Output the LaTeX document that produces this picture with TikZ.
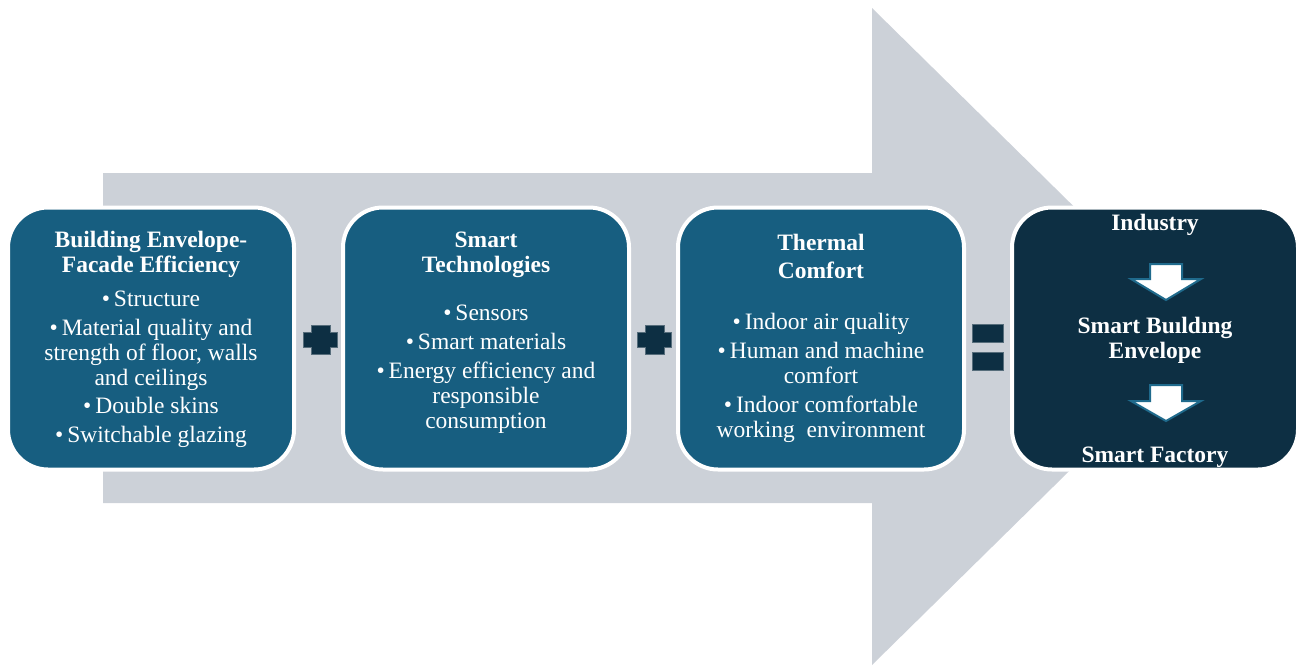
\documentclass[tikz,border=0pt]{standalone}
\usepackage{fontspec}
\setmainfont{Liberation Serif}
\definecolor{boxblue}{HTML}{175E80}
\definecolor{boxdark}{HTML}{0D2F43}
\definecolor{arrowgray}{HTML}{CCD1D8}
\definecolor{arrowedge}{HTML}{1F6A8C}
\begin{document}
\begin{tikzpicture}[x=1pt,y=-1pt,
  card/.style={draw=white,line width=4pt,rounded corners=40pt,minimum width=286pt,minimum height=262pt,inner sep=0pt},
  bluecard/.style={card,fill=boxblue},
  darkcard/.style={card,fill=boxdark},
  ttl/.style={text=white,align=center,font=\fontsize{23.5}{25}\selectfont\bfseries,inner sep=0pt},
  items/.style={text=white,align=center,font=\fontsize{23.5}{25}\selectfont,inner sep=0pt},
  sym/.style={fill=boxdark,draw=boxdark!70!white,line width=0.4pt},
  downarrow/.style={fill=white,draw=arrowedge,line width=2pt,line join=miter}
]
\useasboundingbox (0,0) rectangle (1299,665);
% big gray arrow
\fill[arrowgray] (103,173) -- (872,173) -- (872,8) -- (1206,336.5) -- (872,665) -- (872,503) -- (103,503) -- cycle;
% cards
\node[bluecard] (c1) at (151,338.5) {};
\node[bluecard] (c2) at (486,338.5) {};
\node[bluecard] (c3) at (821,338.5) {};
\node[darkcard] (c4) at (1155,338.5) {};
% card 1 text
\node[ttl] (t1) at (151,254) {Building Envelope-\\Facade Efficiency};
\node[items] (i1) at (151,369) {\textbullet\,Structure\\[4pt]
  \textbullet\,Material quality and\\strength of floor, walls\\and ceilings\\[3pt]
  \textbullet\,Double skins\\[4pt]
  \textbullet\,Switchable glazing};
% card 2 text
\node[ttl] (t2) at (486,254.5) {Smart\\Technologies};
\node[items] (i2) at (486,369.5) {\textbullet\,Sensors\\[4pt]
  \textbullet\,Smart materials\\[4pt]
  \textbullet\,Energy efficiency and\\responsible\\consumption};
% card 3 text
\node[ttl] (t3) at (821,256) {Thermal\\[3pt]Comfort};
\node[items] (i3) at (821,378) {\textbullet\,Indoor air quality\\[4pt]
  \textbullet\,Human and machine\\comfort\\[4pt]
  \textbullet\,Indoor comfortable\\working\ \ environment};
% card 4 text
\node[ttl] (r1) at (1155,225) {Industry};
\node[ttl] (r2) at (1155,340.5) {Smart Buıldıng\\Envelope};
\node[ttl] (r3) at (1155,457) {Smart Factory};
% down arrows
\draw[downarrow] (1150,264) -- (1182,264) -- (1182,279) -- (1201,279) -- (1166,300) -- (1131,279) -- (1150,279) -- cycle;
\draw[downarrow] (1150,385) -- (1182,385) -- (1182,401) -- (1201,401) -- (1166,421) -- (1131,401) -- (1150,401) -- cycle;
% plus signs
\draw[sym] (311,325) -- (330,325) -- (330,332) -- (337,332) -- (337,347) -- (330,347) -- (330,354) -- (311,354) -- (311,347) -- (303,347) -- (303,332) -- (311,332) -- cycle;
\draw[sym] (645,325) -- (664,325) -- (664,332) -- (671,332) -- (671,347) -- (664,347) -- (664,354) -- (645,354) -- (645,347) -- (637,347) -- (637,332) -- (645,332) -- cycle;
% equals sign
\draw[sym] (972,324) rectangle (1003,342);
\draw[sym] (972,352) rectangle (1003,370);
\end{tikzpicture}
\end{document}
